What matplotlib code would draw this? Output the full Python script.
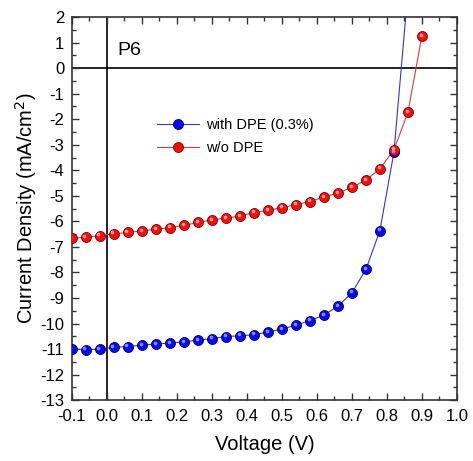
import matplotlib
matplotlib.use("Agg")
import matplotlib.pyplot as plt
from matplotlib.ticker import MultipleLocator, FormatStrFormatter
from matplotlib.transforms import offset_copy
import numpy as np

plt.rcParams["font.family"] = ["Liberation Sans", "DejaVu Sans"]
plt.rcParams["axes.unicode_minus"] = False

# J-V data (V, mA/cm^2)
volt_dpe = [-0.10, -0.06, -0.02, 0.02, 0.06, 0.10, 0.14, 0.18, 0.22, 0.26,
            0.30, 0.34, 0.38, 0.42, 0.46, 0.50, 0.54, 0.58, 0.62, 0.66,
            0.70, 0.74, 0.78, 0.82, 0.86]
j_dpe = [-11.00, -11.02, -11.00, -10.93, -10.90, -10.85, -10.80, -10.76,
         -10.72, -10.65, -10.59, -10.51, -10.48, -10.44, -10.33, -10.22,
         -10.06, -9.89, -9.67, -9.32, -8.80, -7.88, -6.36, -3.30, 3.00]

volt_ref = [-0.10, -0.06, -0.02, 0.02, 0.06, 0.10, 0.14, 0.18, 0.22, 0.26,
            0.30, 0.34, 0.38, 0.42, 0.46, 0.50, 0.54, 0.58, 0.62, 0.66,
            0.70, 0.74, 0.78, 0.82, 0.86, 0.90]
j_ref = [-6.67, -6.62, -6.56, -6.49, -6.43, -6.38, -6.30, -6.25, -6.16,
         -6.04, -5.95, -5.87, -5.79, -5.66, -5.56, -5.47, -5.34, -5.23,
         -5.05, -4.89, -4.67, -4.38, -3.94, -3.20, -1.73, 1.26]

series = [
    # x, y, label, ball colour, edge, highlight, line colour
    (volt_dpe, j_dpe, "with DPE (0.3%)", "#0a0af0", "#00005a", "#9a9aff", "#3535c8"),
    (volt_ref, j_ref, "w/o DPE", "#f01010", "#7a0000", "#ffb0b0", "#cc4040"),
]

fig = plt.figure(figsize=(4.73, 4.61), dpi=100)
ax = fig.add_axes([0.152, 0.132, 0.814, 0.831])

hl = offset_copy(ax.transData, fig=fig, x=-1.4, y=1.4, units="dots")
for x, y, lab, col, edge, hi, lcol in series:
    ax.plot(x, y, "-", color=lcol, lw=0.8, zorder=2)
    ax.plot(x, y, "o", ms=7.2, mfc=col, mec=edge, mew=0.6, ls="none", zorder=3)
    ax.plot(x, y, "o", ms=2.6, mfc=hi, mec="none", ls="none", zorder=4,
            transform=hl, alpha=0.9)
    # legend proxy
    ax.plot([], [], "-o", color=lcol, lw=0.8, ms=7.2, mfc=col, mec=edge,
            mew=0.6, label=lab)

ax.axhline(0, color="black", lw=1.2, zorder=1)
ax.axvline(0, color="black", lw=1.2, zorder=1)

ax.set_xlim(-0.1, 1.0)
ax.set_ylim(-13, 2)
ax.xaxis.set_major_locator(MultipleLocator(0.1))
ax.xaxis.set_minor_locator(MultipleLocator(0.05))
ax.xaxis.set_major_formatter(FormatStrFormatter("%.1f"))
ax.yaxis.set_major_locator(MultipleLocator(1))
ax.yaxis.set_minor_locator(MultipleLocator(0.5))
ax.tick_params(which="both", direction="in", top=True, right=True,
               labelsize=12, width=1.0, color="#333333")
ax.tick_params(which="major", length=5)
ax.tick_params(which="minor", length=3)
ax.tick_params(axis="x", which="major", pad=6.5)
ax.tick_params(axis="y", which="major", pad=5.5)
for sp in ax.spines.values():
    sp.set_linewidth(1.2)
    sp.set_color("#333333")

ax.set_xlabel("Voltage (V)", fontsize=14.5, labelpad=8)
ax.set_ylabel("Current Density (mA/cm$^2$)", fontsize=14.5, labelpad=1)

ax.text(0.03, 0.71, "P6", fontsize=14, va="center", ha="left")

# handles 0..3 are the drawn marks; the proxies carry the labels
handles, labels = ax.get_legend_handles_labels()
ax.legend(handles, labels, loc="upper left", bbox_to_anchor=(0.187, 0.77),
          frameon=False, fontsize=10.5, handlelength=2.9, handletextpad=0.45,
          labelspacing=0.6, numpoints=1)

fig.savefig("out.png", dpi=100)
